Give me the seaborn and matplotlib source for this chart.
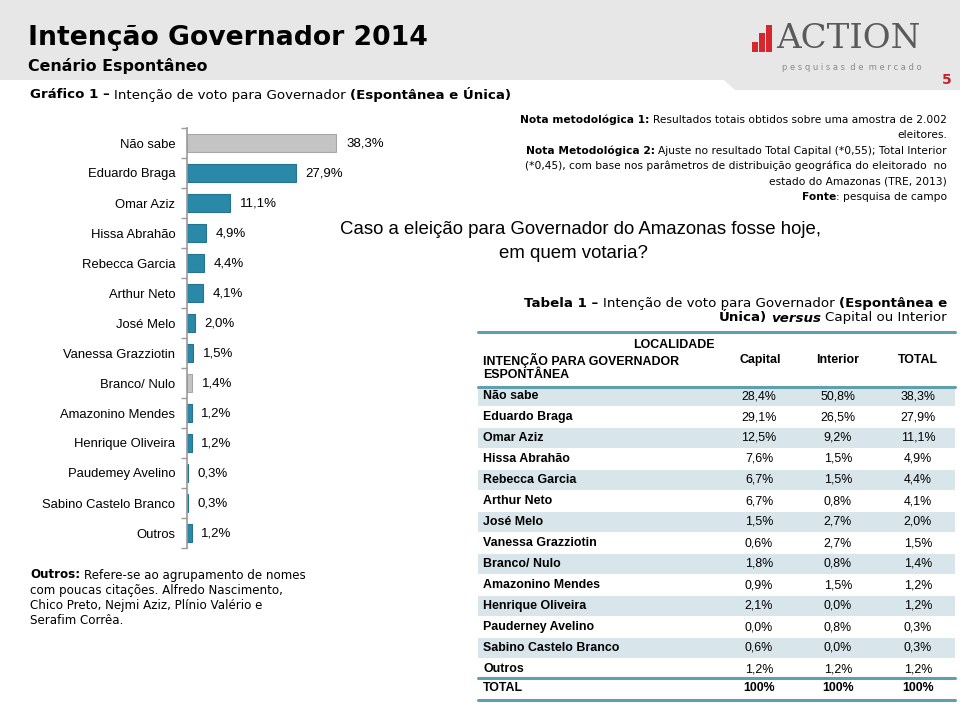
import matplotlib
matplotlib.use("Agg")
import matplotlib.pyplot as plt
import seaborn as sns
import numpy as np
import pandas as pd
from matplotlib.patches import Polygon, Rectangle
from matplotlib.ticker import FixedLocator

# ---------------- data ----------------
categories = ["Não sabe", "Eduardo Braga", "Omar Aziz", "Hissa Abrahão", "Rebecca Garcia",
              "Arthur Neto", "José Melo", "Vanessa Grazziotin", "Branco/ Nulo",
              "Amazonino Mendes", "Henrique Oliveira", "Paudemey Avelino",
              "Sabino Castelo Branco", "Outros"]
totals = [38.3, 27.9, 11.1, 4.9, 4.4, 4.1, 2.0, 1.5, 1.4, 1.2, 1.2, 0.3, 0.3, 1.2]

table_rows = ["Não sabe", "Eduardo Braga", "Omar Aziz", "Hissa Abrahão", "Rebecca Garcia",
              "Arthur Neto", "José Melo", "Vanessa Grazziotin", "Branco/ Nulo",
              "Amazonino Mendes", "Henrique Oliveira", "Pauderney Avelino",
              "Sabino Castelo Branco", "Outros"]
capital = [28.4, 29.1, 12.5, 7.6, 6.7, 6.7, 1.5, 0.6, 1.8, 0.9, 2.1, 0.0, 0.6, 1.2]
interior = [50.8, 26.5, 9.2, 1.5, 1.5, 0.8, 2.7, 2.7, 0.8, 1.5, 0.0, 0.8, 0.0, 1.2]
total_col = [38.3, 27.9, 11.1, 4.9, 4.4, 4.1, 2.0, 1.5, 1.4, 1.2, 1.2, 0.3, 0.3, 1.2]
gray_cats = ["Não sabe", "Branco/ Nulo"]

TEAL = "#2a88a8"
GRAY = "#c4c4c4"

def pct(v):
    return f"{v:.1f}%".replace(".", ",")

# ---------------- figure ----------------
sns.set_theme(style="white")
plt.rcParams["font.family"] = ["Liberation Sans", "DejaVu Sans"]
for k in ("text.color", "axes.labelcolor", "xtick.color", "ytick.color"):
    plt.rcParams[k] = "black"
W, H = 960, 720
fig = plt.figure(figsize=(9.6, 7.2), dpi=100)
fig.patch.set_facecolor("white")

def fx(px):
    return px / W

def fy(py):
    return 1 - py / H

# header band
band = Polygon([(fx(0), fy(0)), (fx(960), fy(0)), (fx(960), fy(90)), (fx(735), fy(90)),
                (fx(724), fy(80)), (fx(0), fy(80))], closed=True, transform=fig.transFigure,
               facecolor="#e7e7e7", edgecolor="none", zorder=0)
fig.patches.append(band)

renderer = fig.canvas.get_renderer()

def measure(s, **kw):
    t = fig.text(0, 0, s, **kw)
    w = t.get_window_extent(renderer).width
    t.remove()
    return w

def runs(x, y, parts, ha="left", size=9, family="DejaVu Sans", color="black"):
    """parts: list of (text, weight, style); a part starting with ':' gets no gap."""
    sw = measure("x x", size=size, family=family) - measure("xx", size=size, family=family)
    widths = []
    gaps = []
    for j, (s, wgt, sty) in enumerate(parts):
        widths.append(measure(s, size=size, family=family, weight=wgt, style=sty))
        gaps.append(0 if (j == 0 or s.startswith(":")) else sw)
    total = sum(widths) + sum(gaps)
    cur = x if ha == "left" else x - total
    for (s, wgt, sty), w, g in zip(parts, widths, gaps):
        cur += g
        fig.text(fx(cur), fy(y), s, size=size, family=family, weight=wgt, style=sty,
                 color=color, ha="left", va="center")
        cur += w

# titles
fig.text(fx(28), fy(38), "Intenção Governador 2014", family="DejaVu Sans", weight="bold",
         size=19.2, va="center", ha="left")
fig.text(fx(28), fy(66), "Cenário Espontâneo", family="DejaVu Sans", weight="bold",
         size=11.4, va="center", ha="left")
runs(30, 95, [("Gráfico 1 –", "bold", "normal"),
              ("Intenção de voto para Governador", "normal", "normal"),
              ("(Espontânea e Única)", "bold", "normal")], size=9.6)

# logo
for i, (h, xx) in enumerate([(10, 752), (19, 759), (27, 766)]):
    fig.patches.append(Rectangle((fx(xx), fy(52)), 5.5 / W, h / H, transform=fig.transFigure,
                                 facecolor="#d7262e", edgecolor="none"))
fig.text(fx(776), fy(39), "ACTION", family="DejaVu Serif", size=24.5, color="#5a5a5a",
         va="center", ha="left")
fig.text(fx(922), fy(68), "p e s q u i s a s  d e  m e r c a d o", family="DejaVu Sans",
         size=6.0, color="#8a8a8a", va="center", ha="right")
fig.text(fx(952), fy(80), "5", family="DejaVu Sans", weight="bold", size=10,
         color="#c8202a", va="center", ha="right")

# ---------------- bar chart ----------------
ax = fig.add_axes([fx(187), fy(548), (460 - 187) / W, 420 / H])
df = pd.DataFrame({"cat": categories, "val": totals})
palette = {c: (GRAY if c in gray_cats else TEAL) for c in categories}
sns.barplot(data=df, x="val", y="cat", hue="cat", palette=palette, orient="h",
            legend=False, width=0.6, saturation=1, ax=ax, linewidth=0.8)
for patch in ax.patches:
    fc = patch.get_facecolor()
    patch.set_edgecolor(tuple(c * 0.85 for c in fc[:3]) + (1,))
ax.set_xlim(0, 70)
ax.set_ylim(13.5, -0.5)
ax.set_xlabel("")
ax.set_ylabel("")
ax.set_xticks([])
ax.set_facecolor("none")
for sp in ["top", "right", "bottom"]:
    ax.spines[sp].set_visible(False)
ax.spines["left"].set_color("#9a9a9a")
ax.spines["left"].set_linewidth(1.2)
ax.yaxis.set_minor_locator(FixedLocator(np.arange(-0.5, 14, 1)))
ax.tick_params(axis="y", which="major", length=0, pad=8.5, labelsize=9.4, left=False)
ax.tick_params(axis="y", which="minor", length=4, width=1, color="#9a9a9a", left=True)
for i, v in enumerate(totals):
    ax.annotate(pct(v), (v, i), xytext=(7, 0), textcoords="offset points",
                va="center", ha="left", fontsize=9.5)

# bottom-left note
note_lines = [
    [("Outros:", "bold", "normal"), ("Refere-se ao agrupamento de nomes", "normal", "normal")],
    [("com poucas citações. Alfredo Nascimento,", "normal", "normal")],
    [("Chico Preto, Nejmi Aziz, Plínio Valério e", "normal", "normal")],
    [("Serafim Corrêa.", "normal", "normal")],
]
for k, ln in enumerate(note_lines):
    runs(30, 575 + 15.3 * k, ln, size=8.6)

# right notes
NS = 7.7
runs(947, 120, [("Nota metodológica 1:", "bold", "normal"),
                ("Resultados totais obtidos sobre uma amostra de 2.002", "normal", "normal")],
     ha="right", size=NS)
runs(947, 135, [("eleitores.", "normal", "normal")], ha="right", size=NS)
runs(947, 151, [("Nota Metodológica 2:", "bold", "normal"),
                ("Ajuste no resultado Total Capital (*0,55); Total Interior", "normal", "normal")],
     ha="right", size=NS)
runs(947, 166, [("(*0,45), com base nos parâmetros de distribuição geográfica do eleitorado  no",
                 "normal", "normal")], ha="right", size=NS)
runs(947, 181, [("estado do Amazonas (TRE, 2013)", "normal", "normal")], ha="right", size=NS)
runs(947, 197, [("Fonte", "bold", "normal"), (": pesquisa de campo", "normal", "normal")],
     ha="right", size=NS)

# question
fig.text(fx(581), fy(230), "Caso a eleição para Governador do Amazonas fosse hoje,",
         size=13.4, ha="center", va="center", family="Liberation Sans")
fig.text(fx(573), fy(253), "em quem votaria?", size=13.4, ha="center", va="center",
         family="Liberation Sans")

# table title
runs(947, 303, [("Tabela 1 –", "bold", "normal"),
                ("Intenção de voto para Governador", "normal", "normal"),
                ("(Espontânea e", "bold", "normal")], ha="right", size=9.6)
runs(947, 318, [("Única)", "bold", "normal"), ("versus", "bold", "italic"),
                ("Capital ou Interior", "normal", "normal")], ha="right", size=9.6)

# ---------------- table ----------------
LINE = "#5f9fae"
SHADE = "#d8e5eb"
x0, x1 = 478, 955
row_y0, row_dy = 396, 21

def hline(py, lw=2.2):
    fig.add_artist(plt.Line2D([fx(x0), fx(x1)], [fy(py), fy(py)], color=LINE, lw=lw,
                              transform=fig.transFigure))

TS = 8.9
for i, name in enumerate(table_rows):
    yc = row_y0 + row_dy * i
    if i % 2 == 0:
        fig.patches.append(Rectangle((fx(x0), fy(yc + 10)), (x1 - x0) / W, 20 / H,
                                     transform=fig.transFigure, facecolor=SHADE,
                                     edgecolor="none", zorder=0))
    fig.text(fx(483), fy(yc), name, size=TS, weight="bold", ha="left", va="center")
    fig.text(fx(759), fy(yc), pct(capital[i]), size=TS, ha="center", va="center")
    fig.text(fx(838), fy(yc), pct(interior[i]), size=TS, ha="center", va="center")
    fig.text(fx(918), fy(yc), pct(total_col[i]), size=TS, ha="center", va="center")

ytot = row_y0 + row_dy * len(table_rows) - 2
fig.text(fx(483), fy(ytot), "TOTAL", size=TS, weight="bold", ha="left", va="center")
for xc in (759, 838, 918):
    fig.text(fx(xc), fy(ytot), "100%", size=TS, weight="bold", ha="center", va="center")

hline(332)
hline(387)
hline(678)
hline(700)

fig.text(fx(715), fy(345), "LOCALIDADE", size=TS, weight="bold", ha="right", va="center")
fig.text(fx(483), fy(360), "INTENÇÃO PARA GOVERNADOR", size=TS, weight="bold",
         ha="left", va="center")
fig.text(fx(483), fy(375), "ESPONTÂNEA", size=TS, weight="bold", ha="left", va="center")
fig.text(fx(760), fy(360), "Capital", size=TS, weight="bold", ha="center", va="center")
fig.text(fx(838), fy(360), "Interior", size=TS, weight="bold", ha="center", va="center")
fig.text(fx(918), fy(360), "TOTAL", size=TS, weight="bold", ha="center", va="center")

fig.savefig("out.png", dpi=100)
